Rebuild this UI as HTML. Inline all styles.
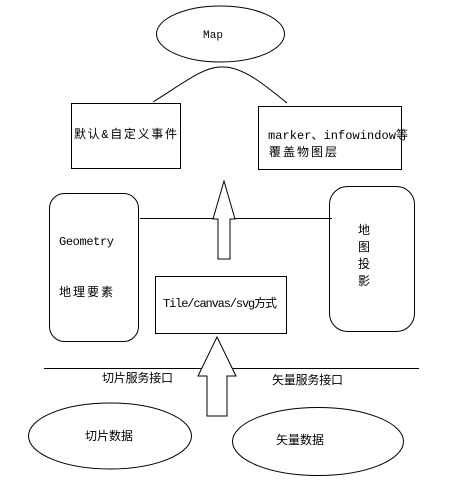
<!DOCTYPE html>
<html><head><meta charset="utf-8"><style>html,body{margin:0;padding:0;background:#fff}svg{display:block}</style></head>
<body>
<svg width="471" height="489" xmlns="http://www.w3.org/2000/svg" font-family="Liberation Mono, Noto Sans CJK SC, monospace" font-size="12" fill="#000">
<g fill="none" stroke="#000" stroke-width="1">
<ellipse cx="220.5" cy="34" rx="64" ry="28"/>
<path d="M153 102 C185 82 205 66 222 67 C242 66 265 85 287 103"/>
<rect x="71.5" y="103.5" width="109" height="65"/>
<rect x="258.5" y="106.5" width="143" height="63"/>
<rect x="49.5" y="193.5" width="89" height="148" rx="15"/>
<rect x="329.5" y="186.5" width="85" height="145" rx="18"/>
<line x1="140" y1="218.5" x2="332" y2="218.5"/>
<rect x="155.5" y="276.5" width="131" height="57"/>
<line x1="44" y1="368.5" x2="419" y2="368.5"/>
<ellipse cx="110" cy="436" rx="81.5" ry="33"/>
<ellipse cx="318" cy="441.5" rx="85.5" ry="34"/>
</g>
<path d="M224 181 L235 219 L230 219 L230 259 L218 259 L218 219 L213 219 Z" fill="#fff" stroke="#000"/>
<path d="M217 337 L236 376 L227 376 L227 416 L207 416 L207 376 L198 376 Z" fill="#fff" stroke="#000"/>
<text x="203" y="38" textLength="20" font-size="11">Map</text>
<text x="74" y="138" textLength="103">默认&amp;自定义事件</text>
<text x="268" y="139" textLength="140">marker、infowindow等</text>
<text x="269" y="156" textLength="68">覆盖物图层</text>
<text x="59" y="245" textLength="55">Geometry</text>
<text x="59" y="296" textLength="54">地理要素</text>
<text x="163" y="307" textLength="114">Tile/canvas/svg方式</text>
<text x="358" y="234">地</text>
<text x="358" y="251">图</text>
<text x="358" y="268">投</text>
<text x="358" y="285">影</text>
<text x="102" y="382" textLength="71">切片服务接口</text>
<text x="272" y="384" textLength="71">矢量服务接口</text>
<text x="85" y="440" textLength="48">切片数据</text>
<text x="276" y="444" textLength="48">矢量数据</text>
</svg>
</body></html>
